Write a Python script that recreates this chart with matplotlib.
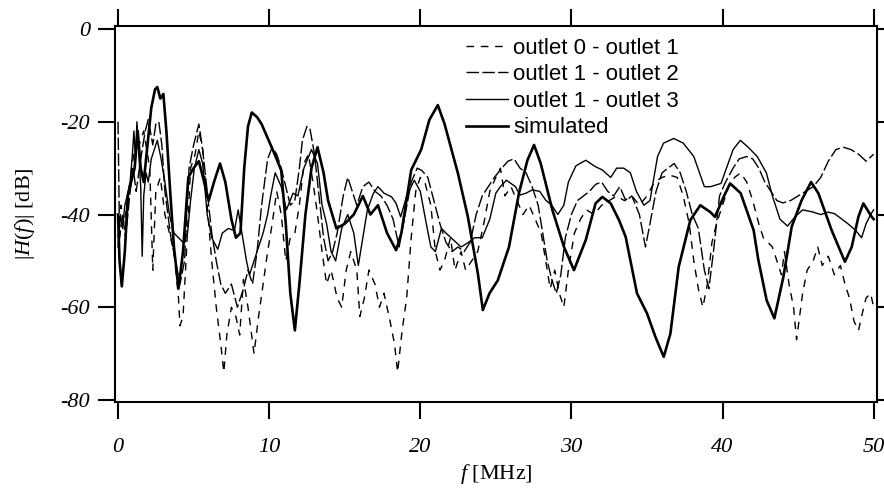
import matplotlib
matplotlib.use("Agg")
import matplotlib.pyplot as plt

# ---------------- data ----------------
f_sim = [0.0, 0.1, 0.25, 0.45, 0.65, 0.9, 1.1, 1.3, 1.5, 1.7, 1.95, 2.2, 2.45, 2.6, 2.8, 3.0, 3.2, 3.45,
         3.7, 4.0, 4.3, 4.65, 5.0, 5.35, 5.7, 6.0, 6.35, 6.75, 7.1, 7.5, 7.8, 8.1, 8.35, 8.6, 8.85, 9.2,
         9.5, 9.9, 10.3, 10.8, 11.1, 11.4, 11.7, 12.0, 12.4, 12.8, 13.2, 13.6, 13.9, 14.45, 15.0, 15.6,
         16.2, 16.7, 17.2, 17.8, 18.4, 18.75, 19.4, 20.06, 20.6, 21.16, 21.6, 22.49, 23.15, 23.81, 24.14,
         24.58, 25.13, 25.87, 26.53, 27.09, 27.53, 27.97, 28.74, 29.51, 30.17, 30.95, 31.6, 32.05, 32.6,
         33.15, 33.59, 34.34, 35.0, 35.56, 36.11, 36.55, 37.1, 37.87, 38.53, 39.2, 39.5, 40.1, 40.5, 41.2,
         42.06, 42.37, 42.92, 43.43, 44.03, 44.58, 45.24, 45.86, 46.34, 47.22, 48.1, 48.55, 48.99, 49.32,
         49.87, 50.0]
h_sim = [-40, -50, -55.5, -48, -36, -32.5, -30, -22, -30, -33, -25, -17, -13, -12.5, -15, -14, -22, -35,
         -47, -56, -48, -32, -30, -28.5, -33, -37, -33, -29, -33, -41, -45, -44, -30, -21, -18, -19,
         -20.5, -23.5, -26.5, -30.5, -42, -57, -65, -55, -40, -30, -25.5, -31, -37, -43, -42, -40,
         -36, -40, -38, -44, -47.7, -44, -30.4, -26, -19.6, -16.4, -20.4, -31.1, -40.5, -52.7, -60.6,
         -57, -54.2, -47, -35.4, -28.3, -25, -29, -39, -47, -52, -45.5, -37.6, -36.2, -37.6,
         -41.2, -44.8, -57, -61.3, -66.4, -70.7, -65.7, -51.3, -41.2, -38, -39.5, -40.5, -36, -33.3, -35.4,
         -43.4, -49.8, -58.5, -62.4, -53.4, -42.6, -36.9, -33, -35.4, -43.4, -50.2, -47, -40.5, -37.6,
         -40.5, -41]

f_13 = [0.0, 0.15, 0.3, 0.45, 0.6, 0.8, 0.95, 1.05, 1.15, 1.25, 1.35, 1.5, 1.6, 1.7, 1.85, 2.0, 2.2, 2.4,
        2.6, 2.85, 3.1, 3.4, 3.7, 4.0, 4.3, 4.6, 4.8, 5.05, 5.35, 5.6, 5.9, 6.2, 6.6, 6.9, 7.3, 7.7, 7.95,
        8.2, 8.5, 8.7, 9.0, 9.3, 9.6, 9.9, 10.1, 10.4, 10.8, 11.14, 11.58, 11.9, 12.3, 12.8, 13.2, 13.5,
        13.8, 14.1, 14.4, 14.8, 15.2, 15.6, 15.9, 16.2, 16.5, 16.9, 17.2, 17.6, 18.1, 18.4, 18.7, 19.1,
        19.6, 20.0, 20.4, 20.7, 21.0, 21.4, 21.7, 22.3, 22.7, 23.2, 23.6, 24.1, 24.6, 25.0, 25.3, 25.7,
        26.0, 26.3, 26.6, 27.0, 27.4, 27.9, 28.3, 28.7, 29.1, 29.5, 29.8, 30.3, 30.95, 31.6, 32.05, 32.6,
        33.0, 33.46, 33.9, 34.3, 34.8, 35.2, 35.7, 36.1, 36.77, 37.4, 38.1, 38.8, 39.2, 39.9, 40.7, 41.18,
        41.7, 42.3, 42.9, 43.3, 43.8, 44.3, 44.8, 45.3, 45.9, 46.5, 47.0, 47.4, 47.9, 48.3, 48.8, 49.2,
        49.5, 49.8, 50.0]
h_13 = [-47, -40, -43, -38, -36, -33, -27, -22, -28, -20, -25, -34, -49, -36, -31, -33, -28, -26,
        -24, -28, -33, -40, -44, -45, -46, -44, -37, -30, -26, -29, -40, -45, -47.5, -44, -43, -43.5, -39,
        -44, -50, -53, -50, -47, -44, -40, -36, -31, -34, -39, -35.4, -36, -30, -26, -29, -38,
        -42, -48, -50, -43, -40, -44, -51, -45, -39, -35.4, -34, -35.4, -36.2, -37.6, -40.5, -36,
        -32.6, -35, -42, -47, -48, -43, -44, -45.8, -47, -46, -45, -45, -41, -35.4, -34, -32.6,
        -33.3, -34, -35.8, -35.4, -34.7, -35, -36.9, -38, -40, -38, -33, -29.5, -28.3, -29.7, -30.4, -32,
        -30, -30, -31, -35, -38, -37, -27.5, -24.6, -23.6, -24.6, -27.5, -34, -34, -33.3, -26, -24,
        -25.5, -27.5, -31, -36, -41, -42.5, -40.5, -39, -39.4, -40, -39.5, -39.8, -41, -42, -43.4, -45,
        -42, -40, -39]

f_12 = [0.0, 0.1, 0.3, 0.5, 0.8, 1.0, 1.2, 1.5, 1.8, 2.0, 2.3, 2.5, 2.7, 2.9, 3.1, 3.3, 3.5, 3.8, 4.1,
        4.4, 4.7, 5.0, 5.35, 5.6, 5.9, 6.2, 6.5, 6.8, 7.1, 7.5, 7.9, 8.3, 8.6, 8.9, 9.2, 9.5, 9.9, 10.2,
        10.5, 10.8, 11.1, 11.4, 11.7, 12.0, 12.2, 12.5, 12.7, 13.0, 13.3, 13.6, 13.9, 14.2, 14.5, 14.9,
        15.2, 15.5, 15.8, 16.2, 16.6, 17.0, 17.4, 17.8, 18.2, 18.6, 19.0, 19.4, 19.8, 20.1, 20.5, 20.9,
        21.3, 21.7, 22.1, 22.5, 22.9, 23.3, 23.7, 24.1, 24.5, 24.9, 25.4, 25.8, 26.2, 26.6, 27.0, 27.4,
        27.8, 28.1, 28.4, 28.7, 29.0, 29.3, 29.6, 30.0, 30.4, 30.8, 31.2, 31.6, 32.0, 32.4, 32.8, 33.2,
        33.6, 34.0, 34.5, 34.9, 35.2, 35.6, 36.0, 36.4, 36.8, 37.2, 37.6, 38.0, 38.4, 38.8, 39.1, 39.4,
        39.8, 40.2, 40.7, 41.1, 41.6, 42.0, 42.4, 42.8, 43.2, 43.6, 44.0, 44.5, 45.0, 45.5, 46.0, 46.5,
        47.0, 47.5, 48.0, 48.5, 49.0, 49.5, 50.0]
h_12 = [-20, -45, -40, -45, -35, -30, -35, -28, -22, -19.5, -25, -20.5, -20, -25, -35, -40, -45, -50, -55,
        -50, -30, -25, -20.5, -26, -35, -44, -50, -55, -57, -55, -60, -56, -52, -55, -48, -38, -28, -25.5,
        -27, -30, -34, -38, -37, -30, -24, -21, -21.5, -27, -36, -45, -50, -48, -44, -36,
        -32, -35, -38, -34, -33, -35, -36, -38, -41, -47, -40, -33, -30, -30.5, -32, -37,
        -42, -46, -48, -47, -48, -46, -40, -36, -34, -32, -30, -28.5, -28, -30, -31, -34,
        -38, -44, -50, -54, -57, -53, -45, -40, -37, -36, -35, -33.5, -33, -35, -36, -34,
        -37, -36, -40, -47, -42, -35, -31, -30, -29, -31, -35, -40, -43, -52, -56, -48,
        -36, -33, -30, -28, -27.5, -28, -30, -33, -35, -37, -37.5, -37, -36, -35, -34, -32,
        -28.5, -26, -25.5, -26, -27, -28.5, -27]

f_01 = [0.0, 0.2, 0.4, 0.6, 0.9, 1.1, 1.4, 1.7, 1.9, 2.1, 2.3, 2.5, 2.8, 3.1, 3.4, 3.7, 4.0, 4.1, 4.3,
        4.5, 4.8, 5.1, 5.35, 5.6, 5.9, 6.2, 6.5, 6.8, 7.0, 7.2, 7.5, 7.8, 8.05, 8.3, 8.6, 8.8, 9.0, 9.3,
        9.6, 9.9, 10.2, 10.5, 10.8, 11.1, 11.4, 11.7, 12.0, 12.3, 12.6, 12.9, 13.2, 13.5, 13.8, 14.1,
        14.5, 14.8, 15.1, 15.4, 15.8, 16.0, 16.3, 16.6, 17.0, 17.3, 17.6, 18.0, 18.3, 18.5, 18.8, 19.1,
        19.4, 19.7, 20.0, 20.3, 20.7, 21.0, 21.3, 21.6, 22.0, 22.3, 22.7, 23.0, 23.4, 23.8, 24.2, 24.6,
        25.0, 25.3, 25.6, 26.0, 26.4, 26.8, 27.2, 27.6, 28.0, 28.3, 28.6, 28.9, 29.2, 29.5, 29.8, 30.2,
        30.6, 31.0, 31.5, 32.0, 32.5, 33.0, 33.5, 34.0, 34.5, 35.0, 35.5, 36.0, 36.5, 37.0, 37.4, 37.8,
        38.1, 38.4, 38.7, 39.0, 39.3, 39.6, 40.0, 40.4, 40.8, 41.2, 41.6, 42.0, 42.4, 42.7, 43.0, 43.3,
        43.6, 43.9, 44.1, 44.4, 44.7, 44.9, 45.1, 45.3, 45.6, 46.0, 46.3, 46.6, 47.0, 47.4, 47.8, 48.1,
        48.4, 48.7, 49.0, 49.2, 49.5, 49.8, 50.0]
h_01 = [-45, -38, -42, -38, -30, -26, -25, -22, -26, -30, -52, -35, -32, -40, -44, -48, -58, -64, -62,
        -50, -30, -27, -22, -26, -38, -50, -60, -68, -74, -66, -60, -62, -66, -54, -60, -65, -70, -62,
        -55, -48, -42, -35, -40, -50, -45, -44, -38, -29, -27, -33, -40, -48, -55, -52,
        -58, -60, -52, -48, -52, -62, -58, -52, -55, -60, -57, -63, -68, -74, -65, -58,
        -45, -35, -32, -33, -38, -48, -52, -50, -45, -52, -48, -52, -50, -48, -42, -35,
        -32, -30, -36, -34, -37, -40, -38, -41, -44, -50, -56, -52, -57, -60, -52, -44,
        -41, -39, -40, -38, -37, -36, -37, -36, -38, -36, -33, -32, -31.5, -32, -36, -42,
        -50, -56, -60, -55, -46, -42, -38, -34, -32, -31, -33, -37, -42, -45, -46, -47,
        -50, -53, -48, -55, -60, -67, -62, -57, -52, -50, -47, -51, -49, -53, -51, -55,
        -58, -63, -65, -62, -58, -57, -60]

series_labels = ["outlet 0 - outlet 1", "outlet 1 - outlet 2", "outlet 1 - outlet 3", "simulated"]
x_ticks = [0, 10, 20, 30, 40, 50]
y_ticks = [0, -20, -40, -60, -80]

# ---------------- style ----------------
plt.rcParams['mathtext.fontset'] = 'custom'
plt.rcParams['mathtext.rm'] = 'Liberation Serif'
plt.rcParams['mathtext.it'] = 'Liberation Serif:italic'
plt.rcParams['axes.unicode_minus'] = False

fig = plt.figure(figsize=(8.84, 4.88), dpi=100)
ax = fig.add_axes([0.1301, 0.1756, 0.8616, 0.7711])

ax.plot(f_01, h_01, color='black', lw=1.0, dashes=(5.5, 4.8), label=series_labels[0])
ax.plot(f_12, h_12, color='black', lw=1.0, dashes=(9, 2.4), label=series_labels[1])
ax.plot(f_13, h_13, color='black', lw=1.0, label=series_labels[2])
ax.plot(f_sim, h_sim, color='black', lw=1.9, label=series_labels[3])

ax.set_xlim(-0.2, 50.2)
ax.set_ylim(-80.5, 0.65)

for s in ax.spines.values():
    s.set_linewidth(1.5)

ax.set_xticks(x_ticks)
ax.set_yticks(y_ticks)
ax.set_xticklabels([str(v) for v in x_ticks], fontfamily='Liberation Serif', fontstyle='italic', fontsize=16)
ax.set_yticklabels([str(v) for v in y_ticks], fontfamily='Liberation Serif', fontstyle='italic', fontsize=16)
ax.tick_params(axis='both', direction='out', length=12, width=1.5,
               top=True, right=True, labeltop=False, labelright=False)
ax.tick_params(axis='x', pad=14)
ax.tick_params(axis='y', pad=6)

ax.set_xlabel(r'$f$ [MHz]', fontsize=16, fontfamily='Liberation Serif', labelpad=3)
ax.set_ylabel(r'$|H(f)|$ [dB]', fontsize=16, fontfamily='Liberation Serif', labelpad=17)

leg = ax.legend(loc='upper left', bbox_to_anchor=(0.4606, 0.969), frameon=False,
                prop={'family': 'Liberation Sans', 'size': 16}, handlelength=1.9,
                handletextpad=0.22, labelspacing=0.25, borderpad=0, borderaxespad=0)

fig.savefig('out.png', dpi=100)
